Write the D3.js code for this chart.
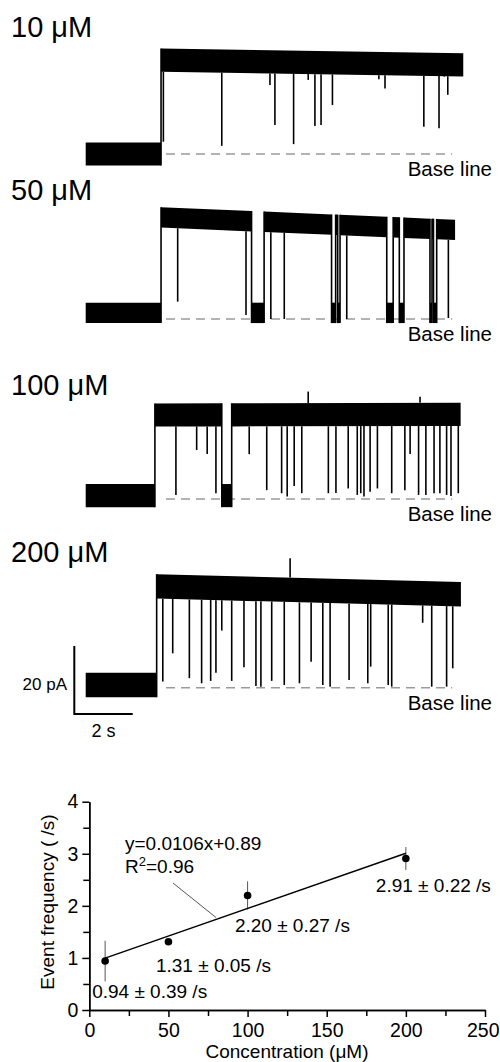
<!DOCTYPE html>
<html>
<head>
<meta charset="utf-8">
<script src="https://cdnjs.cloudflare.com/ajax/libs/d3/7.8.5/d3.min.js"></script>
<style>
  body { margin: 0; background: #fff; }
  svg { display: block; font-family: Arial, "Liberation Sans", sans-serif; }
</style>
</head>
<body>
<div id="chart"></div>
<script>
const width = 500;
const height = 1062;

// ---- current traces (time in s, current in pA above base line) ----
const traceLabels = ['10 \u03bcM', '50 \u03bcM', '100 \u03bcM', '200 \u03bcM'];

// open periods [start, end] in s; the record starts closed at 0 s
const open10 = [[2.58, 12.93]];
const open50 = [[2.58, 5.68], [6.11, 8.42], [8.56, 8.63], [8.71, 10.31], [10.53, 10.74],
                [10.90, 11.79], [11.86, 11.91], [12.02, 12.65]];
const open100 = [[2.37, 4.66], [5.00, 12.84]];
const open200 = [[2.43, 12.85]];

// open current at start and end of the record (slow drift), closed current, noise half-width
const openLevels = [[27.6, 26.2], [29.9, 26.2], [24.7, 24.9], [29.8, 27.5]];
const closedLevels = [0, 1.8, 1.0, 0.8];
const noiseWidth = [3.4, 3.0, 3.4, 3.6];

// brief events [time s, current pA reached]
const spikes10 = [[2.66, 3.6], [4.66, 2.4], [6.31, 20.3], [6.48, 8.5], [7.12, 2.9], [7.62, 21.8],
                  [7.85, 8.2], [8.06, 8.5], [8.45, 14.4], [10.04, 22.0], [10.25, 19.3],
                  [11.58, 8.0], [12.10, 7.6], [12.28, 22.7], [12.40, 17.4]];
const spikes50 = [[3.15, 5.1], [5.49, 1.2], [6.34, 0], [6.80, 0], [8.94, 0], [12.42, 0.3]];
const spikes100 = [[3.09, 1.2], [3.80, 14.4], [4.16, 13.2], [4.46, 1.7], [5.60, 13.2], [6.20, 2.6],
                   [6.71, 1.7], [6.90, 0.7], [7.14, 3.8], [7.40, 1.7], [7.62, 31.6], [8.31, 1.7],
                   [8.57, 1.8], [8.99, 3.1], [9.30, 1.2], [9.42, 1.7], [9.53, 0.7], [9.74, 2.1],
                   [9.99, 3.1], [10.48, 1.7], [10.93, 2.6], [11.11, 13.2], [11.40, 1.2],
                   [11.45, 30.1], [11.65, 1.2], [11.93, 1.7], [12.13, 1.7], [12.36, 1.2],
                   [12.51, 0.9], [12.76, 1.7]];
const spikes200 = [[2.64, 1.8], [2.98, 10.1], [3.55, 2.8], [3.97, 1.3], [4.28, 2.0], [4.46, 4.4],
                   [4.66, 16.8], [5.00, 2.0], [5.42, 6.0], [5.83, 0.5], [6.00, 0.3], [6.37, 2.0],
                   [6.80, 0.8], [7.00, 38.1], [7.32, 1.3], [7.72, 7.6], [8.12, 0.8], [8.37, 0.3],
                   [9.02, 2.3], [9.66, 1.3], [9.76, 6.2], [10.36, 0.8], [10.48, 0.3],
                   [11.54, 19.1], [11.85, 0.3], [12.36, 0.3], [12.57, 5.7]];

const baseLineSpan = [2.75, 12.55];

// ---- concentration dependence ----
const conc = [10, 50, 100, 200];
const freq = [0.94, 1.31, 2.20, 2.91];
const sem = [0.39, 0.05, 0.27, 0.22];
const fitSlope = 0.0106;
const fitIntercept = 0.89;
const fitR2 = 0.96;
const xTicks = [0, 50, 100, 150, 200, 250];
const yTicks = [0, 1, 2, 3, 4];

const traces = [
  { open: open10, spikes: spikes10 },
  { open: open50, spikes: spikes50 },
  { open: open100, spikes: spikes100 },
  { open: open200, spikes: spikes200 }
];

const svg = d3.select('#chart')
  .append('svg')
  .attr('width', width)
  .attr('height', height);

const xTrace = d3.scaleLinear().domain([0, 2]).range([85.7, 85.7 + 58.4]);
const traceBase = [154, 319, 499, 687.7];
const labelY = [37, 200, 395, 562];

traces.forEach((tr, i) => {
  const y = d3.scaleLinear().domain([0, 20]).range([traceBase[i], traceBase[i] - 68]);
  const hw = noiseWidth[i];
  const t0 = tr.open[0][0];
  const tEnd = tr.open[tr.open.length - 1][1];
  const openAt = t => openLevels[i][0] + (openLevels[i][1] - openLevels[i][0]) * (t - t0) / (tEnd - t0);
  const g = svg.append('g');

  // closed periods are the gaps between openings
  const closed = [];
  let prev = 0;
  tr.open.forEach(([a, b]) => { if (a > prev) closed.push([prev, a]); prev = b; });

  const band = d3.area()
    .x(d => xTrace(d.t))
    .y0(d => y(d.c - hw))
    .y1(d => y(d.c + hw));

  // dashed base line
  g.append('line')
    .attr('x1', xTrace(baseLineSpan[0]))
    .attr('x2', xTrace(baseLineSpan[1]))
    .attr('y1', y(0))
    .attr('y2', y(0))
    .attr('stroke', '#9a9a9a')
    .attr('stroke-width', 1.5)
    .attr('stroke-dasharray', '9,6');

  closed.forEach(([a, b]) => {
    g.append('path')
      .attr('d', band([{ t: a, c: closedLevels[i] }, { t: b, c: closedLevels[i] }]))
      .attr('fill', '#000');
  });
  tr.open.forEach(([a, b]) => {
    g.append('path')
      .attr('d', band([{ t: a, c: openAt(a) }, { t: b, c: openAt(b) }]))
      .attr('fill', '#000');
    [a, b].forEach(t => {
      if (t === tEnd) return;
      g.append('line')
        .attr('x1', xTrace(t)).attr('x2', xTrace(t))
        .attr('y1', y(closedLevels[i] - hw)).attr('y2', y(openAt(t) + hw))
        .attr('stroke', '#000').attr('stroke-width', 1.6);
    });
  });

  g.selectAll('.spike')
    .data(tr.spikes)
    .enter()
    .append('line')
    .attr('class', 'spike')
    .attr('x1', d => xTrace(d[0]))
    .attr('x2', d => xTrace(d[0]))
    .attr('y1', d => d[1] < openAt(d[0]) ? y(openAt(d[0]) - hw) : y(openAt(d[0]) + hw))
    .attr('y2', d => y(d[1]))
    .attr('stroke', '#000')
    .attr('stroke-width', 1.6);

  svg.append('text')
    .text(traceLabels[i])
    .attr('x', 11)
    .attr('y', labelY[i])
    .style('font-size', '29px');

  svg.append('text')
    .text('Base line')
    .attr('x', 492)
    .attr('y', traceBase[i] + 22)
    .attr('text-anchor', 'end')
    .style('font-size', '20.5px');
});

// scale bar
const yBar = d3.scaleLinear().domain([0, 20]).range([714, 646]);
const barX0 = 74.3;
const barLen = xTrace(2) - xTrace(0);
svg.append('path')
  .attr('d', `M${barX0},${yBar(20)}V${yBar(0)}H${barX0 + barLen}`)
  .attr('fill', 'none')
  .attr('stroke', '#000')
  .attr('stroke-width', 2);
svg.append('text')
  .text('20 pA')
  .attr('x', 67)
  .attr('y', 690)
  .attr('text-anchor', 'end')
  .style('font-size', '17px');
svg.append('text')
  .text('2 s')
  .attr('x', barX0 + barLen / 2)
  .attr('y', 737)
  .attr('text-anchor', 'middle')
  .style('font-size', '18px');

// ---- scatter plot ----
const xScale = d3.scaleLinear().domain([0, 250]).range([89.3, 485]);
const yScale = d3.scaleLinear().domain([0, 4]).range([1010, 801.7]);

const plot = svg.append('g');

const xAxis = d3.axisBottom(xScale).tickValues(xTicks).tickSize(7).tickSizeOuter(0).tickPadding(6);
const xMinor = d3.axisBottom(xScale).tickValues(d3.range(25, 250, 50)).tickSize(6).tickSizeOuter(0).tickFormat('');
const yAxis = d3.axisLeft(yScale).tickValues(yTicks).tickSize(7).tickSizeOuter(0).tickPadding(4).tickFormat(d3.format('d'));
const yMinor = d3.axisLeft(yScale).tickValues(d3.range(0.5, 4, 1)).tickSize(6).tickSizeOuter(0).tickFormat('');

[[xAxis, 'x'], [xMinor, 'x'], [yAxis, 'y'], [yMinor, 'y']].forEach(([ax, k]) => {
  const a = plot.append('g')
    .attr('transform', k === 'x' ? `translate(0,${yScale(0)})` : `translate(${xScale(0)},0)`)
    .call(ax);
  a.selectAll('path, line').attr('stroke', '#000').attr('stroke-width', 1.5);
  a.selectAll('text').attr('fill', '#000').style('font-size', '19.5px').style('font-family', 'Arial, "Liberation Sans", sans-serif');
  // keep the last x label inside the page
  if (ax === xAxis) a.selectAll('text').filter(d => d === 250).attr('text-anchor', 'end').attr('x', 14);
});

plot.append('text')
  .text('Concentration (\u03bcM)')
  .attr('x', 287)
  .attr('y', 1058)
  .attr('text-anchor', 'middle')
  .style('font-size', '19px');

plot.append('text')
  .text('Event frequency ( /s)')
  .attr('transform', 'translate(54,902) rotate(-90)')
  .attr('text-anchor', 'middle')
  .style('font-size', '19px');

// error bars
plot.selectAll('.err')
  .data(conc)
  .enter()
  .append('line')
  .attr('class', 'err')
  .attr('x1', d => xScale(d))
  .attr('x2', d => xScale(d))
  .attr('y1', (d, i) => yScale(freq[i] - sem[i]))
  .attr('y2', (d, i) => yScale(freq[i] + sem[i]))
  .attr('stroke', '#555')
  .attr('stroke-width', 1);

// linear fit
const fitX = [conc[0], conc[conc.length - 1]];
plot.append('line')
  .attr('x1', xScale(fitX[0]))
  .attr('y1', yScale(fitSlope * fitX[0] + fitIntercept))
  .attr('x2', xScale(fitX[1]))
  .attr('y2', yScale(fitSlope * fitX[1] + fitIntercept))
  .attr('stroke', '#000')
  .attr('stroke-width', 1.5);

plot.selectAll('.dot')
  .data(conc)
  .enter()
  .append('circle')
  .attr('class', 'dot')
  .attr('cx', d => xScale(d))
  .attr('cy', (d, i) => yScale(freq[i]))
  .attr('r', 3.8)
  .attr('fill', '#000');

// value labels
const labelOffsets = [[-13, 37], [-12.5, 30.5], [-12.7, 36.6], [-30, 33.5]];
conc.forEach((c, i) => {
  plot.append('text')
    .text(`${freq[i].toFixed(2)} \u00b1 ${sem[i].toFixed(2)} /s`)
    .attr('x', xScale(c) + labelOffsets[i][0])
    .attr('y', yScale(freq[i]) + labelOffsets[i][1])
    .style('font-size', '19px');
});

// fit equation with leader line
plot.append('line')
  .attr('x1', 173).attr('y1', 883)
  .attr('x2', xScale(80)).attr('y2', yScale(fitSlope * 80 + fitIntercept) - 2)
  .attr('stroke', '#555')
  .attr('stroke-width', 1);

plot.append('text')
  .text(`y=${fitSlope}x+${fitIntercept}`)
  .attr('x', 125)
  .attr('y', 850)
  .style('font-size', '19px');

const r2 = plot.append('text')
  .attr('x', 125)
  .attr('y', 873)
  .style('font-size', '19px');
r2.append('tspan').text('R');
r2.append('tspan').text('2').attr('dy', -7).style('font-size', '13px');
r2.append('tspan').text(`=${fitR2}`).attr('dy', 7);
</script>
</body>
</html>
